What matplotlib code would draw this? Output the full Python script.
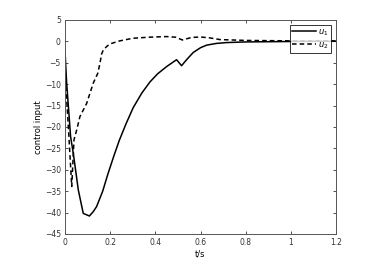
import matplotlib
matplotlib.use('Agg')
import matplotlib.pyplot as plt

# u1 (solid)
t1 = [0, 0.007, 0.025, 0.037, 0.059, 0.081, 0.095, 0.108, 0.125, 0.140, 0.167, 0.19, 0.215,
      0.24, 0.27, 0.302, 0.34, 0.376, 0.41, 0.45, 0.494, 0.516, 0.54, 0.568, 0.6, 0.627,
      0.67, 0.715, 0.8, 0.9, 1.0, 1.1, 1.2]
u1 = [-2, -9.4, -22.3, -26.2, -34.7, -40.2, -40.5, -40.8, -39.8, -38.6, -35, -31, -27,
      -23.2, -19.3, -15.5, -12.1, -9.5, -7.6, -5.9, -4.3, -5.7, -4.2, -2.6, -1.5, -0.9,
      -0.5, -0.3, -0.15, -0.1, -0.05, 0, 0]

# u2 (dashed)
t2 = [0, 0.015, 0.03, 0.04, 0.052, 0.066, 0.096, 0.125, 0.145, 0.155, 0.162, 0.17, 0.185,
      0.2, 0.243, 0.30, 0.37, 0.45, 0.49, 0.52, 0.56, 0.6, 0.64, 0.686, 0.8, 0.9, 1.0, 1.1, 1.2]
u2 = [-7, -20, -33.9, -23, -20.7, -17.6, -14.5, -9.8, -7.5, -5.1, -3.0, -2.0, -1.2,
      -0.6, 0.1, 0.7, 0.95, 1.1, 0.95, 0.3, 0.9, 1.0, 0.8, 0.4, 0.2, 0.15, 0.1, 0.1, 0.1]

fig = plt.figure(figsize=(3.89, 2.65), dpi=100)
ax = fig.add_axes([0.167, 0.117, 0.697, 0.808])

ax.plot(t1, u1, color='black', lw=1.1, label='$u_1$')
ax.plot(t2, u2, color='black', lw=1.1, ls='--', dashes=(3, 2), label='$u_2$')

ax.set_xlim(0, 1.2)
ax.set_ylim(-45, 5)
ax.set_xticks([0, 0.2, 0.4, 0.6, 0.8, 1.0, 1.2])
ax.set_xticklabels(['0', '0.2', '0.4', '0.6', '0.8', '1', '1.2'])
ax.set_yticks(range(-45, 6, 5))
ax.tick_params(direction='in', length=2.5, labelsize=5.5, top=True, right=True,
               width=0.6, colors='#333333', pad=3)
for s in ax.spines.values():
    s.set_linewidth(0.7)
    s.set_color('#555555')

ax.set_xlabel('t/s', fontsize=6, labelpad=2)
ax.set_ylabel('control input', fontsize=6, labelpad=1)

leg = ax.legend(loc='upper right', fontsize=6, frameon=True, fancybox=False,
                edgecolor='black', handlelength=2.8, borderpad=0.3, labelspacing=0.3,
                handletextpad=0.3, borderaxespad=0.6)
leg.get_frame().set_linewidth(0.7)

fig.savefig('out.png', dpi=100)
